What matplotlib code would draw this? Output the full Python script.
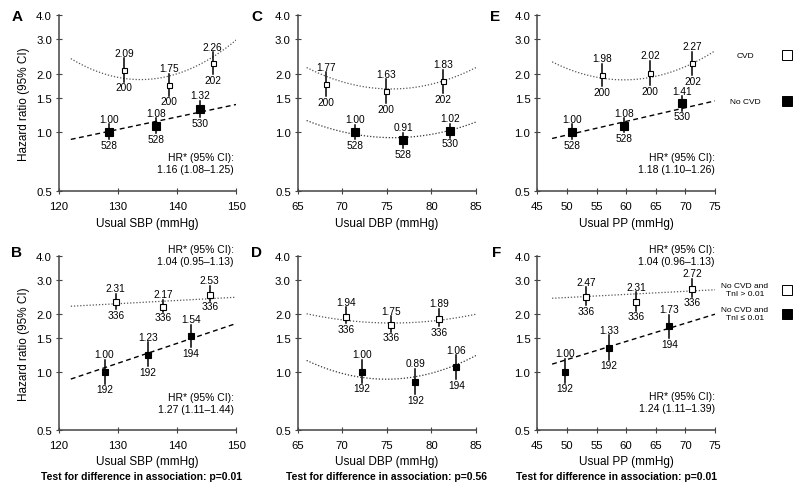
import numpy as np
import matplotlib
matplotlib.use('Agg')
import matplotlib.pyplot as plt
from matplotlib.lines import Line2D

plt.rcParams['font.family'] = ['Liberation Sans', 'DejaVu Sans']
plt.rcParams['font.size'] = 7.5

# ---- data ----
# top row: CVD (open) vs No CVD (filled)
a_cvd_x = [131.0, 138.6, 146.0]
a_cvd_hr = [2.09, 1.75, 2.26]
a_cvd_lo = [1.82, 1.54, 1.99]
a_cvd_hi = [2.40, 1.99, 2.57]
a_cvd_n = [200, 200, 202]
a_no_x = [128.5, 136.4, 143.9]
a_no_hr = [1.00, 1.08, 1.32]
a_no_lo = [0.92, 0.99, 1.20]
a_no_hi = [1.10, 1.18, 1.45]
a_no_n = [528, 528, 530]

c_cvd_x = [68.2, 74.9, 81.3]
c_cvd_hr = [1.77, 1.63, 1.83]
c_cvd_lo = [1.53, 1.41, 1.59]
c_cvd_hi = [2.03, 1.87, 2.09]
c_cvd_n = [200, 200, 202]
c_no_x = [71.4, 76.85, 82.1]
c_no_hr = [1.00, 0.91, 1.02]
c_no_lo = [0.92, 0.83, 0.94]
c_no_hi = [1.09, 0.99, 1.11]
c_no_n = [528, 528, 530]

e_cvd_x = [55.9, 64.0, 71.2]
e_cvd_hr = [1.98, 2.02, 2.27]
e_cvd_lo = [1.72, 1.75, 1.97]
e_cvd_hi = [2.24, 2.32, 2.59]
e_cvd_n = [200, 200, 202]
e_no_x = [50.8, 59.6, 69.5]
e_no_hr = [1.00, 1.08, 1.41]
e_no_lo = [0.92, 1.00, 1.29]
e_no_hi = [1.10, 1.18, 1.53]
e_no_n = [528, 528, 530]

# bottom row: TnI > 0.01 (open) vs TnI <= 0.01 (filled)
b_hi_x = [129.6, 137.65, 145.5]
b_hi_hr = [2.31, 2.17, 2.53]
b_hi_lo = [2.13, 2.06, 2.35]
b_hi_hi = [2.55, 2.38, 2.81]
b_hi_n = [336, 336, 336]
b_lo_x = [127.7, 135.0, 142.3]
b_lo_hr = [1.00, 1.23, 1.54]
b_lo_lo = [0.87, 1.07, 1.35]
b_lo_hi = [1.16, 1.43, 1.76]
b_lo_n = [192, 192, 194]

d_hi_x = [70.4, 75.5, 80.9]
d_hi_hr = [1.94, 1.75, 1.89]
d_hi_lo = [1.80, 1.62, 1.74]
d_hi_hi = [2.17, 1.95, 2.13]
d_hi_n = [336, 336, 336]
d_lo_x = [72.2, 78.2, 82.8]
d_lo_hr = [1.00, 0.89, 1.06]
d_lo_lo = [0.88, 0.77, 0.92]
d_lo_hi = [1.16, 1.04, 1.22]
d_lo_n = [192, 192, 194]

f_hi_x = [53.3, 61.7, 71.2]
f_hi_hr = [2.47, 2.31, 2.72]
f_hi_lo = [2.23, 2.09, 2.47]
f_hi_hi = [2.76, 2.60, 3.05]
f_hi_n = [336, 336, 336]
f_lo_x = [49.7, 57.1, 67.3]
f_lo_hr = [1.00, 1.33, 1.73]
f_lo_lo = [0.88, 1.16, 1.50]
f_lo_hi = [1.17, 1.55, 1.98]
f_lo_n = [192, 192, 194]

# fitted trend lines (values read at a few x positions)
a_cvd_fit_x, a_cvd_fit_hr = [122, 135, 150], [2.39, 1.87, 2.98]
a_no_fit_x, a_no_fit_hr = [122, 150], [0.92, 1.39]
c_cvd_fit_x, c_cvd_fit_hr = [66, 75, 85], [2.15, 1.67, 2.15]
c_no_fit_x, c_no_fit_hr = [66, 76.5, 85], [1.15, 0.94, 1.13]
e_cvd_fit_x, e_cvd_fit_hr = [47.5, 59, 75], [2.30, 1.86, 2.62]
e_no_fit_x, e_no_fit_hr = [47.5, 75], [0.93, 1.45]
b_hi_fit_x, b_hi_fit_hr = [122, 150], [2.20, 2.45]
b_lo_fit_x, b_lo_fit_hr = [122, 150], [0.92, 1.79]
d_hi_fit_x, d_hi_fit_hr = [66, 76, 85], [2.01, 1.80, 2.00]
d_lo_fit_x, d_lo_fit_hr = [66, 75.7, 85], [1.15, 0.92, 1.22]
f_hi_fit_x, f_hi_fit_hr = [47.5, 75], [2.42, 2.68]
f_lo_fit_x, f_lo_fit_hr = [47.5, 75], [1.10, 2.00]

yticks = [0.5, 1.0, 1.5, 2.0, 3.0, 4.0]
sbp_ticks = [120, 130, 140, 150]
dbp_ticks = [65, 70, 75, 80, 85]
pp_ticks = [45, 50, 55, 60, 65, 70, 75]

hr_a = 'HR* (95% CI):\n1.16 (1.08\u20131.25)'
hr_e = 'HR* (95% CI):\n1.18 (1.10\u20131.26)'
hr_b_top = 'HR* (95% CI):\n1.04 (0.95\u20131.13)'
hr_b_bot = 'HR* (95% CI):\n1.27 (1.11\u20131.44)'
hr_f_top = 'HR* (95% CI):\n1.04 (0.96\u20131.13)'
hr_f_bot = 'HR* (95% CI):\n1.24 (1.11\u20131.39)'
p_values = ['0.01', '0.56', '0.01']

legend_top = ['CVD', 'No CVD']
legend_bot = ['No CVD and\nTnI > 0.01', 'No CVD and\nTnI \u2264 0.01']

W, H = 800, 489
fig = plt.figure(figsize=(8, 4.89), dpi=100)


def px_axes(x0, x1, ytop, ybot):
    return fig.add_axes([x0 / W, 1 - ybot / H, (x1 - x0) / W, (ybot - ytop) / H])


def fit_line(ax, fx, fy, style):
    deg = len(fx) - 1
    coef = np.polyfit(fx, np.log(fy), deg)
    xs = np.linspace(fx[0], fx[-1], 200)
    ax.plot(xs, np.exp(np.polyval(coef, xs)), **style)


def group(ax, x, hr, lo, hi, n, filled, ms):
    for xi, h, l, u, ni in zip(x, hr, lo, hi, n):
        ax.plot([xi, xi], [l, u], color='black', lw=1.1, zorder=3)
        ax.annotate(f'{h:.2f}', (xi, u), xytext=(0, 0.5), textcoords='offset points',
                    ha='center', va='bottom', fontsize=7.3)
        ax.annotate(str(ni), (xi, l), xytext=(0, -0.5), textcoords='offset points',
                    ha='center', va='top', fontsize=7.3)
    ax.plot(x, hr, 's', ms=ms, mfc='black' if filled else 'white', mec='black',
            mew=0.8, ls='none', zorder=4)


def style_axes(ax, xlim, xticks, xlabel, ylabel=False):
    ax.set_yscale('log')
    ax.set_ylim(0.5, 4.0)
    ax.set_xlim(*xlim)
    ax.set_yticks(yticks)
    ax.set_yticklabels([f'{t:.1f}' for t in yticks])
    ax.minorticks_off()
    ax.set_xticks(xticks)
    for s in ['top', 'right']:
        ax.spines[s].set_visible(False)
    for s in ['left', 'bottom']:
        ax.spines[s].set_color('#444444')
        ax.spines[s].set_linewidth(1.1)
    ax.tick_params(direction='inout', length=4, width=0.8, color='#444444',
                   labelsize=8.2)
    ax.tick_params(axis='x', pad=5)
    ax.tick_params(axis='y', pad=3)
    ax.set_xlabel(xlabel, fontsize=8.5)
    ax.xaxis.set_label_coords(0.5, -0.145)
    if ylabel:
        ax.set_ylabel('Hazard ratio (95% CI)', fontsize=8.5)
        ax.yaxis.set_label_coords(-0.165, 0.5)


dot = dict(color='#555555', lw=0.9, ls=(0, (1, 1.5)), zorder=2)
dot_dark = dict(color='#333333', lw=0.9, ls=(0, (1, 1.5)), zorder=2)
dash = dict(color='black', lw=1.0, ls=(0, (3.5, 2.5)), zorder=2)

cols = [(59, 236.3), (297.7, 476), (537.3, 715)]
rows = [(16, 192), (257.3, 431)]

# ---- top row ----
axA = px_axes(*cols[0], *rows[0])
style_axes(axA, (120, 150), sbp_ticks, 'Usual SBP (mmHg)', ylabel=True)
fit_line(axA, a_cvd_fit_x, a_cvd_fit_hr, dot)
fit_line(axA, a_no_fit_x, a_no_fit_hr, dash)
group(axA, a_cvd_x, a_cvd_hr, a_cvd_lo, a_cvd_hi, a_cvd_n, False, 3.6)
group(axA, a_no_x, a_no_hr, a_no_lo, a_no_hi, a_no_n, True, 6.0)
axA.text(0.985, 0.16, hr_a, transform=axA.transAxes, ha='right', va='center',
         linespacing=1.25)

axC = px_axes(*cols[1], *rows[0])
style_axes(axC, (65, 85), dbp_ticks, 'Usual DBP (mmHg)')
fit_line(axC, c_cvd_fit_x, c_cvd_fit_hr, dot)
fit_line(axC, c_no_fit_x, c_no_fit_hr, dot_dark)
group(axC, c_cvd_x, c_cvd_hr, c_cvd_lo, c_cvd_hi, c_cvd_n, False, 3.6)
group(axC, c_no_x, c_no_hr, c_no_lo, c_no_hi, c_no_n, True, 6.0)

axE = px_axes(*cols[2], *rows[0])
style_axes(axE, (45, 75), pp_ticks, 'Usual PP (mmHg)')
fit_line(axE, e_cvd_fit_x, e_cvd_fit_hr, dot)
fit_line(axE, e_no_fit_x, e_no_fit_hr, dash)
group(axE, e_cvd_x, e_cvd_hr, e_cvd_lo, e_cvd_hi, e_cvd_n, False, 3.6)
group(axE, e_no_x, e_no_hr, e_no_lo, e_no_hi, e_no_n, True, 6.0)
axE.text(1.0, 0.16, hr_e, transform=axE.transAxes, ha='right', va='center',
         linespacing=1.25)

# ---- bottom row ----
axB = px_axes(*cols[0], *rows[1])
style_axes(axB, (120, 150), sbp_ticks, 'Usual SBP (mmHg)', ylabel=True)
fit_line(axB, b_hi_fit_x, b_hi_fit_hr, dot)
fit_line(axB, b_lo_fit_x, b_lo_fit_hr, dash)
group(axB, b_hi_x, b_hi_hr, b_hi_lo, b_hi_hi, b_hi_n, False, 5.0)
group(axB, b_lo_x, b_lo_hr, b_lo_lo, b_lo_hi, b_lo_n, True, 3.8)
axB.text(0.985, 1.01, hr_b_top, transform=axB.transAxes, ha='right', va='center',
         linespacing=1.25)
axB.text(0.985, 0.155, hr_b_bot, transform=axB.transAxes, ha='right', va='center',
         linespacing=1.25)

axD = px_axes(*cols[1], *rows[1])
style_axes(axD, (65, 85), dbp_ticks, 'Usual DBP (mmHg)')
fit_line(axD, d_hi_fit_x, d_hi_fit_hr, dot)
fit_line(axD, d_lo_fit_x, d_lo_fit_hr, dot_dark)
group(axD, d_hi_x, d_hi_hr, d_hi_lo, d_hi_hi, d_hi_n, False, 5.0)
group(axD, d_lo_x, d_lo_hr, d_lo_lo, d_lo_hi, d_lo_n, True, 3.8)

axF = px_axes(*cols[2], *rows[1])
style_axes(axF, (45, 75), pp_ticks, 'Usual PP (mmHg)')
fit_line(axF, f_hi_fit_x, f_hi_fit_hr, dot)
fit_line(axF, f_lo_fit_x, f_lo_fit_hr, dash)
group(axF, f_hi_x, f_hi_hr, f_hi_lo, f_hi_hi, f_hi_n, False, 5.0)
group(axF, f_lo_x, f_lo_hr, f_lo_lo, f_lo_hi, f_lo_n, True, 3.8)
axF.text(1.0, 1.005, hr_f_top, transform=axF.transAxes, ha='right', va='center',
         linespacing=1.25)
axF.text(1.0, 0.16, hr_f_bot, transform=axF.transAxes, ha='right', va='center',
         linespacing=1.25)

# test for difference texts
for ax, p, xc in zip([axB, axD, axF], p_values, [0.463, 0.5, 0.447]):
    ax.text(xc, -0.265, f'Test for difference in association: p={p}',
            transform=ax.transAxes, ha='center', va='center',
            fontsize=7.5, fontweight='bold')

# panel letters
for lab, (x, y) in zip('ACEBDF', [(17, 17), (257, 17), (495, 17),
                                   (17, 253), (257, 253), (497, 253)]):
    fig.text(x / W, 1 - y / H, lab, fontsize=11, fontweight='bold',
             ha='center', va='center')

# legends on the right
for lab, y, filled in zip(legend_top, [56, 102], [False, True]):
    fig.text(745 / W, 1 - y / H, lab, fontsize=6, ha='center', va='center')
    fig.add_artist(Line2D([787 / W], [1 - y / H], marker='s', ms=6.8,
                          mfc='black' if filled else 'white', mec='black',
                          mew=0.7, transform=fig.transFigure))
for lab, y, filled in zip(legend_bot, [290.5, 314.5], [False, True]):
    fig.text(745 / W, 1 - y / H, lab, fontsize=6, ha='center', va='center',
             linespacing=1.1)
    fig.add_artist(Line2D([787 / W], [1 - y / H], marker='s', ms=6.8,
                          mfc='black' if filled else 'white', mec='black',
                          mew=0.7, transform=fig.transFigure))

fig.savefig('out.png', dpi=100)
